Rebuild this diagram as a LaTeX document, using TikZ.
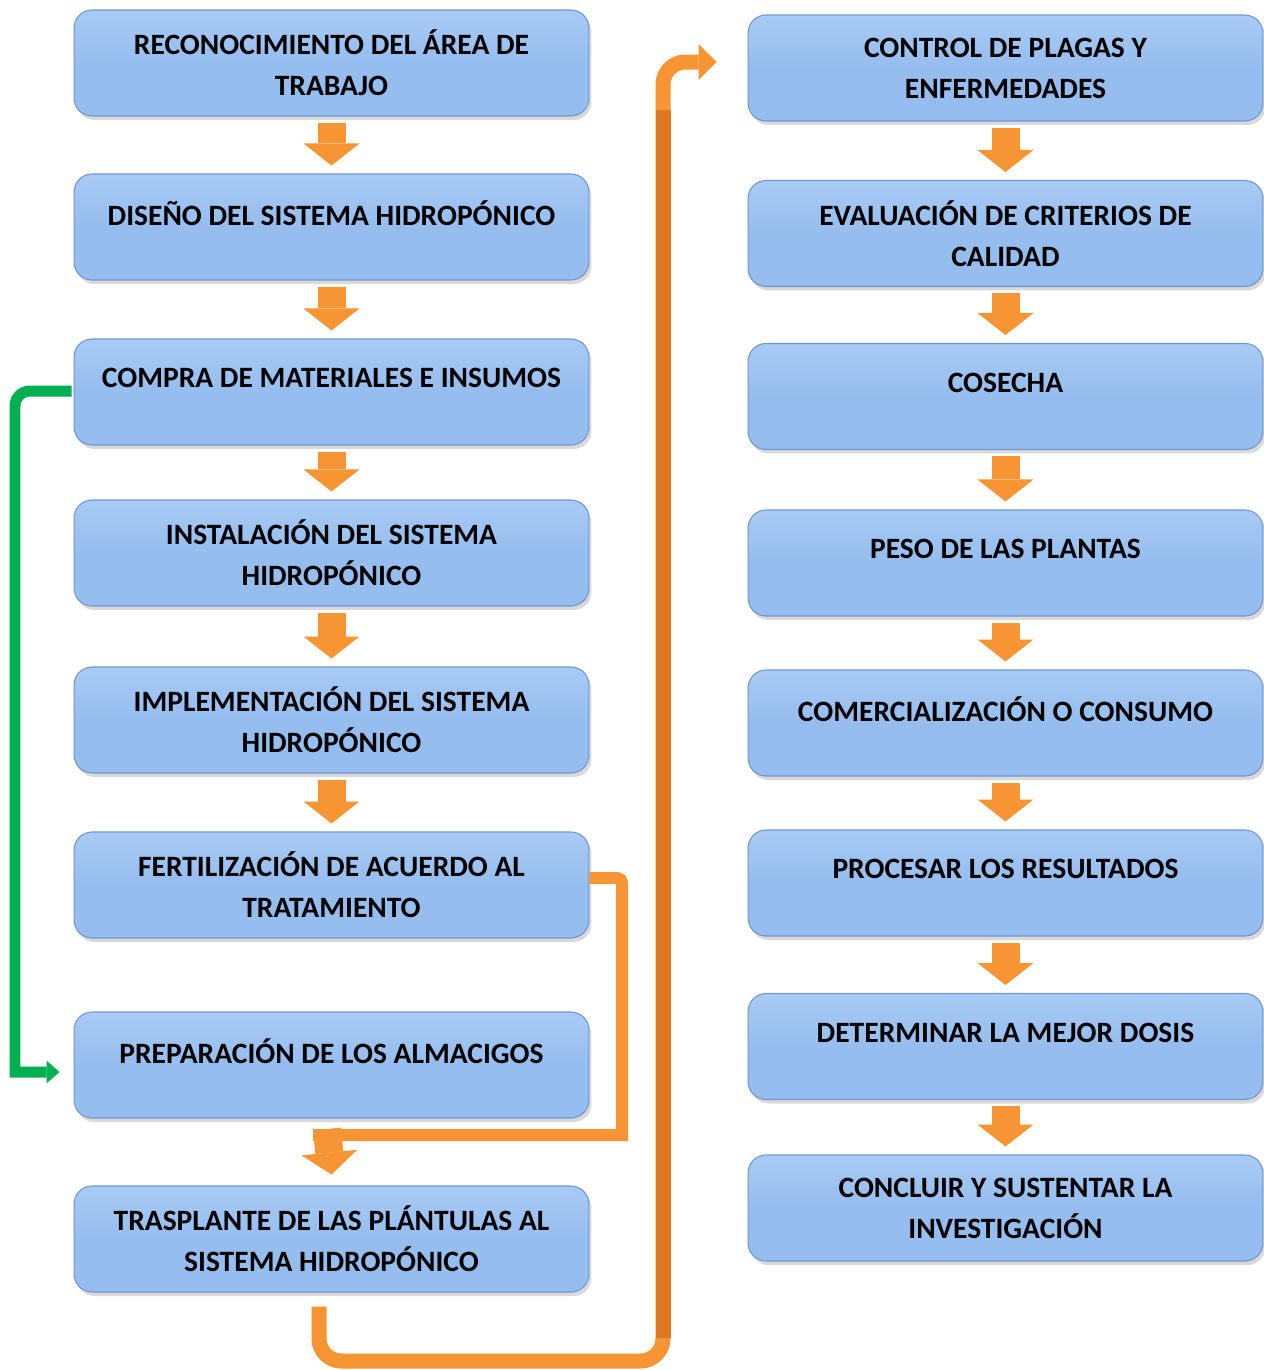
\documentclass[tikz,border=0pt]{standalone}
\usepackage{fontspec}
\setmainfont{Carlito}
\usetikzlibrary{arrows.meta, shadows, calc}

\definecolor{boxfill}{RGB}{149,189,238}
\definecolor{boxtop}{RGB}{168,203,245}
\definecolor{boxedge}{RGB}{112,150,208}
\definecolor{flecha}{RGB}{247,148,51}
\definecolor{flechaosc}{RGB}{222,120,34}
\definecolor{verde}{RGB}{0,176,80}

\tikzset{
  paso/.style={rounded corners=0.36cm, draw=boxedge, line width=0.6pt,
    top color=boxtop, bottom color=boxfill, middle color=boxfill,
    minimum width=10.3cm, minimum height=2.12cm, inner sep=2pt, align=center,
    font=\bfseries\fontsize{16.8}{23.4}\selectfont,
    drop shadow={opacity=0.3, shadow xshift=0.05cm, shadow yshift=-0.08cm}},
  arriba/.style={text depth=0.56cm},
  bloque/.style={flecha, line width=0.56cm,
    -{Triangle[width=1.12cm, length=0.44cm, line width=0pt]}},
  enlace/.style={flecha, line width=0.24cm, line join=miter},
}

\begin{document}
\begin{tikzpicture}[x=0.02cm, y=-0.02cm]
  \useasboundingbox (0,0) rectangle (1264,1370);

  % left column
  \node[paso] (l1) at (331.5,63) {RECONOCIMIENTO DEL ÁREA DE\\TRABAJO};
  \node[paso, arriba] (l2) at (331.5,227) {DISEÑO DEL SISTEMA HIDROPÓNICO};
  \node[paso, arriba] (l3) at (331.5,392) {COMPRA DE MATERIALES E INSUMOS};
  \node[paso] (l4) at (331.5,553) {INSTALACIÓN DEL SISTEMA\\HIDROPÓNICO};
  \node[paso] (l5) at (331.5,720) {IMPLEMENTACIÓN DEL SISTEMA\\HIDROPÓNICO};
  \node[paso] (l6) at (331.5,885) {FERTILIZACIÓN DE ACUERDO AL\\TRATAMIENTO};
  \node[paso, arriba] (l7) at (331.5,1065) {PREPARACIÓN DE LOS ALMACIGOS};
  \node[paso] (l8) at (331.5,1239) {TRASPLANTE DE LAS PLÁNTULAS AL\\SISTEMA HIDROPÓNICO};

  % right column
  \node[paso] (r1) at (1005.5,68) {CONTROL DE PLAGAS Y\\ENFERMEDADES};
  \node[paso] (r2) at (1005.5,233.5) {EVALUACIÓN DE CRITERIOS DE\\CALIDAD};
  \node[paso, arriba] (r3) at (1005.5,396.5) {COSECHA};
  \node[paso, arriba] (r4) at (1005.5,563) {PESO DE LAS PLANTAS};
  \node[paso, arriba] (r5) at (1005.5,723) {COMERCIALIZACIÓN O CONSUMO};
  \node[paso, arriba] (r6) at (1005.5,883) {PROCESAR LOS RESULTADOS};
  \node[paso, arriba] (r7) at (1005.5,1046.5) {DETERMINAR LA MEJOR DOSIS};
  \node[paso] (r8) at (1005.5,1208) {CONCLUIR Y SUSTENTAR LA\\INVESTIGACIÓN};

  % block arrows
  \foreach \a/\b in {l1/l2, l2/l3, l3/l4, l4/l5, l5/l6,
                     r1/r2, r2/r3, r3/r4, r4/r5, r5/r6, r6/r7, r7/r8}
    \draw[bloque] ([yshift=-0.12cm]\a.south) -- ([yshift=0.16cm]\b.north);

  % fertilizacion -> trasplante
  \coordinate (codo) at (327,1129);
  \draw[enlace, rounded corners=0.1cm] ([yshift=0.14cm]l6.east) -- (622,878)
    [sharp corners] -- (622,1135) -- (313,1135);
  \draw[bloque] (codo) -- ([yshift=0.22cm]l8.north);

  % compra -> almacigos
  \draw[verde, line width=0.22cm, rounded corners=0.3cm,
    -{Triangle[width=0.46cm, length=0.26cm, line width=0pt]}]
    ([xshift=-0.04cm,yshift=0.02cm]l3.west) -- (15,391) [sharp corners] -- (15,1072)
    -- ([xshift=-0.28cm,yshift=-0.14cm]l7.west);

  % trasplante -> control de plagas
  \draw[flecha, line width=0.3cm, rounded corners=0.45cm,
    -{Triangle[width=0.72cm, length=0.36cm, line width=0pt]}]
    ([xshift=-0.25cm,yshift=-0.28cm]l8.south) -- (319,1361) -- (663,1361)
    -- (663,62) -- ([xshift=-0.62cm,yshift=0.12cm]r1.west);
  \draw[flechaosc, line width=0.3cm] (663,1338) -- (663,110);
\end{tikzpicture}
\end{document}
